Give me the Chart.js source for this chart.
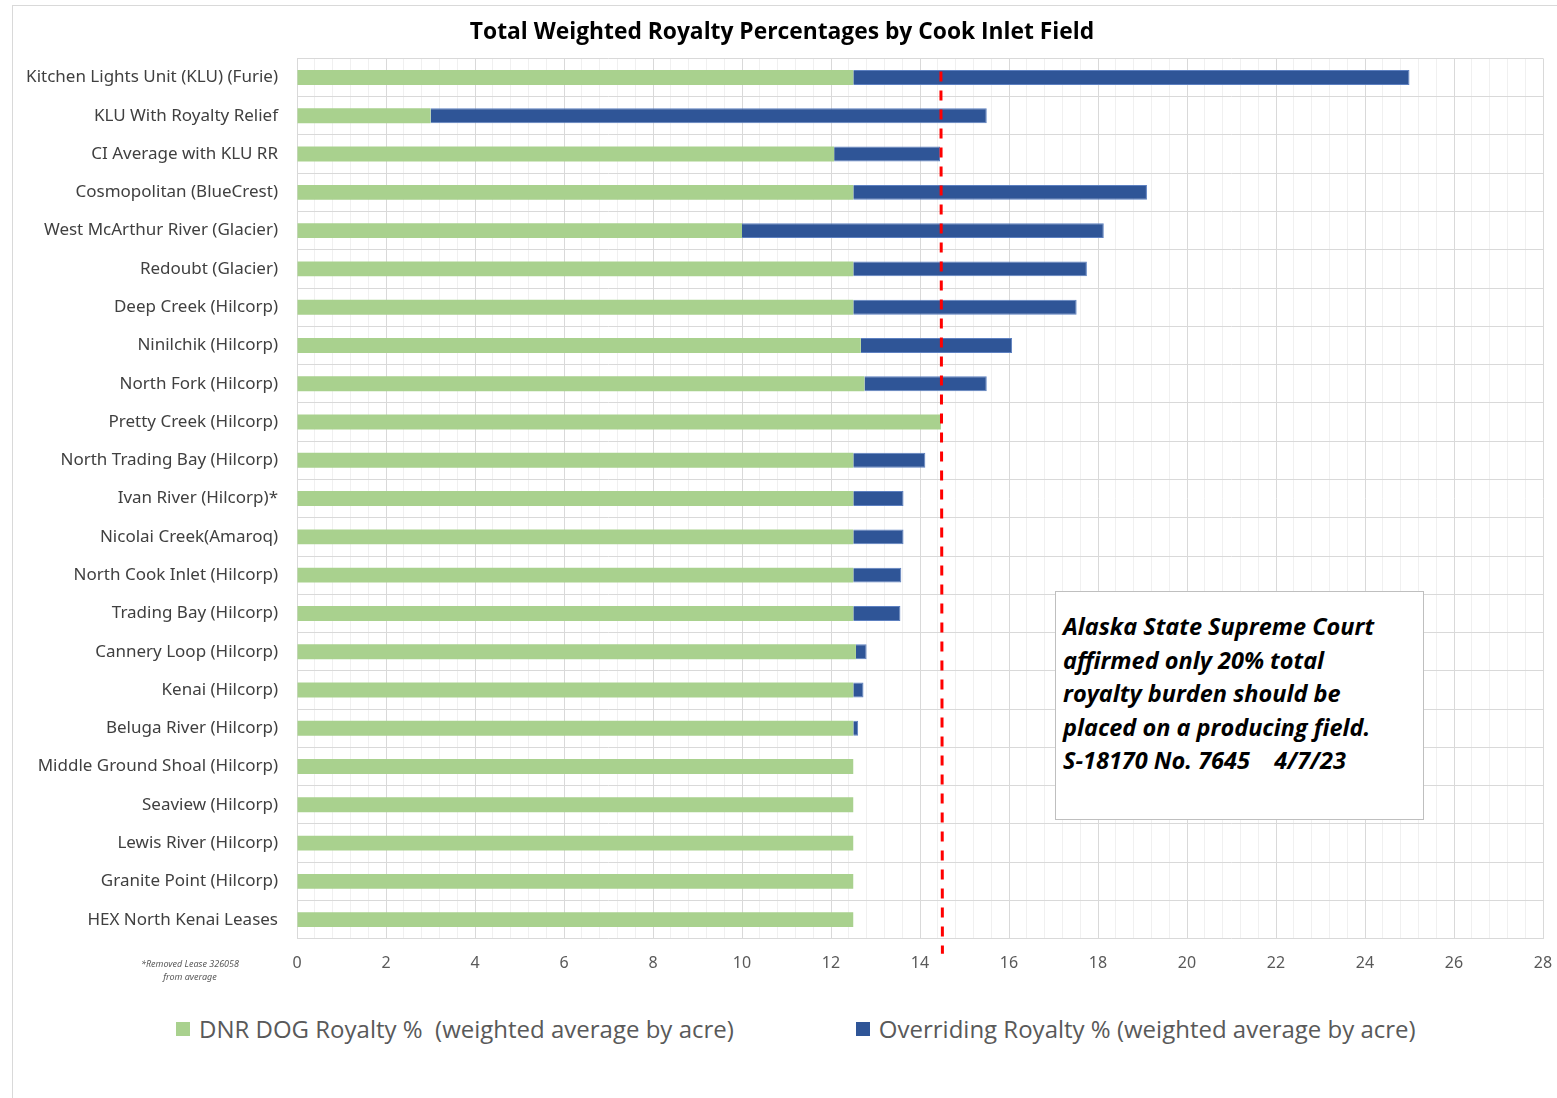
<!DOCTYPE html>
<html>
<head>
<meta charset="utf-8">
<title>Total Weighted Royalty Percentages by Cook Inlet Field</title>
<script src="https://cdn.jsdelivr.net/npm/chart.js@4.4.1/dist/chart.umd.min.js"></script>
<style>
  body { margin: 0; background: #fff; width: 1557px; height: 1098px; overflow: hidden; position: relative; font-family: "Noto Sans", sans-serif; }
  #frame { position: absolute; left: 12px; top: 5px; right: 0; bottom: 0; border-left: 1px solid #d9d9d9; border-top: 1px solid #d9d9d9; }
  #wrap { position: absolute; left: 21px; top: 0; width: 1536px; height: 988px; }
  #note { position: absolute; left: 115px; top: 957px; width: 150px; text-align: center; font-style: italic; font-size: 9px; line-height: 13px; color: #595959; }
  #legend { position: absolute; left: 176px; top: 1012px; display: flex; gap: 122px; font-family: "Open Sans", sans-serif; font-size: 24px; color: #595959; }
  #legend .item { display: flex; align-items: center; white-space: pre; }
  #legend .box { width: 14px; height: 14px; margin-right: 9px; }
  #callout { position: absolute; left: 1055px; top: 591px; width: 367px; height: 227px; border: 1px solid #bfbfbf; background: #fff;
             font-family: "Open Sans", sans-serif; font-weight: bold; font-style: italic; font-size: 23.5px; line-height: 33.5px; color: #000; }
  #callout div { padding: 18px 0 0 7px; white-space: pre; }
</style>
</head>
<body>
<div id="frame"></div>
<div id="wrap"><canvas id="royaltyChart"></canvas></div>
<div id="note">*Removed Lease 326058<br>from average</div>
<div id="legend"></div>
<div id="callout"><div id="calloutText"></div></div>
<script>
// Données
const chartTitle = 'Total Weighted Royalty Percentages by Cook Inlet Field';

const fields = [
  'Kitchen Lights Unit (KLU) (Furie)',
  'KLU With Royalty Relief',
  'CI Average with KLU RR',
  'Cosmopolitan (BlueCrest)',
  'West McArthur River (Glacier)',
  'Redoubt (Glacier)',
  'Deep Creek (Hilcorp)',
  'Ninilchik (Hilcorp)',
  'North Fork (Hilcorp)',
  'Pretty Creek (Hilcorp)',
  'North Trading Bay (Hilcorp)',
  'Ivan River (Hilcorp)*',
  'Nicolai Creek(Amaroq)',
  'North Cook Inlet (Hilcorp)',
  'Trading Bay (Hilcorp)',
  'Cannery Loop (Hilcorp)',
  'Kenai (Hilcorp)',
  'Beluga River (Hilcorp)',
  'Middle Ground Shoal (Hilcorp)',
  'Seaview (Hilcorp)',
  'Lewis River (Hilcorp)',
  'Granite Point (Hilcorp)',
  'HEX North Kenai Leases'
];

const dnrRoyalty = [12.5, 3, 12.07, 12.5, 10, 12.5, 12.5, 12.67, 12.75, 14.47, 12.5, 12.5,
  12.5, 12.5, 12.5, 12.56, 12.5, 12.5, 12.5, 12.5, 12.5, 12.5, 12.5];

const overridingRoyalty = [12.5, 12.5, 2.38, 6.6, 8.13, 5.25, 5.02, 3.4, 2.75, 0, 1.62, 1.13,
  1.13, 1.08, 1.06, 0.24, 0.23, 0.11, 0, 0, 0, 0, 0];

const legendLabels = [
  'DNR DOG Royalty %  (weighted average by acre)',
  'Overriding Royalty % (weighted average by acre)'
];

// moyenne CI (ligne rouge pointillée)
const ciAverage = 14.47;

const xMin = 0;
const xMax = 28;
const xMinorStep = 0.4;
const xMajorStep = 2;

const calloutLines = [
  'Alaska State Supreme Court',
  'affirmed only 20% total',
  'royalty burden should be',
  'placed on a producing field.',
  'S-18170 No. 7645    4/7/23'
];

function isMajor(v) {
  const r = v / xMajorStep;
  return Math.abs(r - Math.round(r)) < 1e-6;
}

// ligne verticale pointillée pour la moyenne
const avgLinePlugin = {
  id: 'avgLine',
  afterDatasetsDraw(chart) {
    const { ctx, chartArea, scales: { x, y } } = chart;
    const px = x.getPixelForValue(ciAverage);
    const top = y.getPixelForValue(0) - 6;
    ctx.save();
    ctx.strokeStyle = '#ff0000';
    ctx.lineWidth = 3;
    ctx.setLineDash([10, 9]);
    ctx.beginPath();
    ctx.moveTo(px, top);
    ctx.lineTo(px + 1.5, chartArea.bottom + 15);
    ctx.stroke();
    ctx.restore();
  }
};

const chart = new Chart(document.getElementById('royaltyChart'), {
  type: 'bar',
  data: {
    labels: fields,
    datasets: [{
      label: legendLabels[0],
      data: dnrRoyalty,
      backgroundColor: '#a9d18e',
      borderWidth: 0
    }, {
      label: legendLabels[1],
      data: overridingRoyalty,
      backgroundColor: '#2f5597',
      borderColor: '#5d80c0',
      borderWidth: 1
    }]
  },
  options: {
    indexAxis: 'y',
    responsive: true,
    maintainAspectRatio: false,
    animation: false,
    layout: { padding: { left: 0, right: 14, top: 0, bottom: 0 } },
    datasets: { bar: { barPercentage: 0.39, categoryPercentage: 1 } },
    plugins: {
      legend: { display: false },
      tooltip: { enabled: false },
      title: {
        display: true,
        text: chartTitle,
        color: '#000',
        font: { family: 'Open Sans', size: 22.8, weight: 'bold' },
        padding: { top: 18.5, bottom: 12.5 }
      }
    },
    scales: {
      x: {
        stacked: true,
        min: xMin,
        max: xMax,
        ticks: {
          stepSize: xMinorStep,
          autoSkip: false,
          maxRotation: 0,
          padding: 15,
          color: '#595959',
          font: { family: 'Noto Sans', size: 16 },
          callback: v => isMajor(v) ? String(Math.round(v)) : ''
        },
        grid: {
          drawTicks: false,
          color: c => isMajor(c.tick.value) ? '#d9d9d9' : '#f0f0f0'
        },
        border: { display: false },
        afterFit: s => { s.paddingRight = 0; s.paddingLeft = 0; }
      },
      y: {
        stacked: true,
        ticks: {
          padding: 19,
          color: '#404040',
          font: { family: 'Noto Sans', size: 17 }
        },
        grid: { drawTicks: false, color: '#d9d9d9' },
        border: { display: false },
        afterFit: s => { s.width = 276; }
      }
    }
  },
  plugins: [avgLinePlugin]
});

// légende HTML
const legendEl = document.getElementById('legend');
chart.data.datasets.forEach(ds => {
  const item = document.createElement('div');
  item.className = 'item';
  const box = document.createElement('span');
  box.className = 'box';
  box.style.background = ds.backgroundColor;
  const txt = document.createElement('span');
  txt.textContent = ds.label;
  item.appendChild(box);
  item.appendChild(txt);
  legendEl.appendChild(item);
});

document.getElementById('calloutText').textContent = calloutLines.join('\n');
</script>
</body>
</html>
